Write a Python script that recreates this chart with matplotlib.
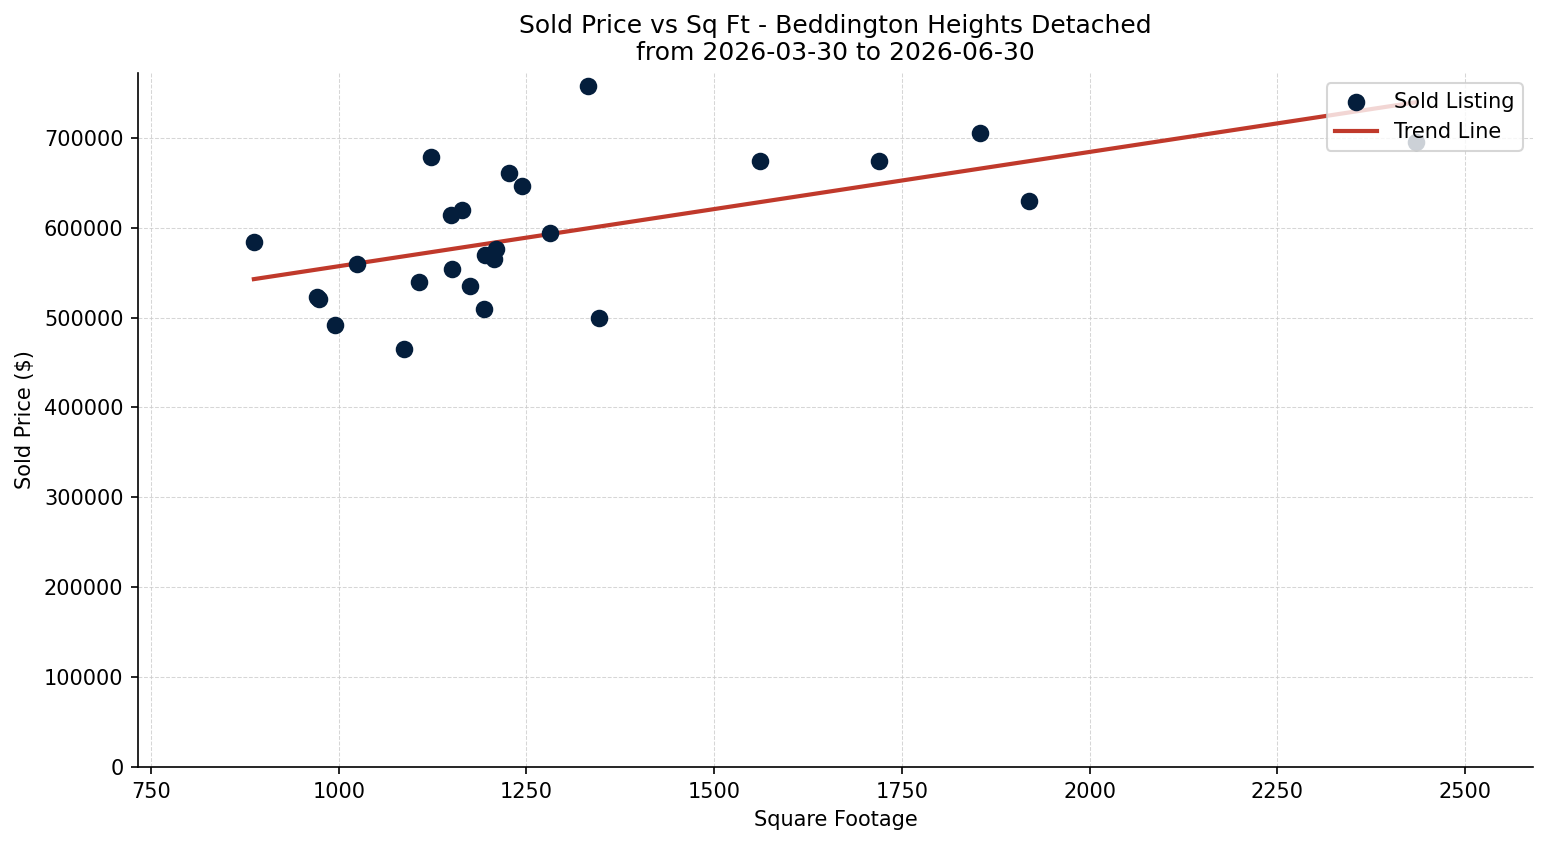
import numpy as np
from matplotlib import pyplot as plt

# sold listings
sqft = [887, 971, 974, 995, 1024, 1087, 1107, 1123, 1150, 1151, 1164, 1175,
        1193, 1195, 1207, 1209, 1227, 1244, 1281, 1332, 1347, 1561, 1720,
        1854, 1919, 2435]
price = [584000, 523000, 521000, 492000, 559000, 465000, 539000, 679000,
         614000, 554000, 620000, 535000, 510000, 569000, 565000, 576000,
         661000, 646000, 594000, 757000, 500000, 674000, 674000, 705000,
         630000, 695000]

title = "Sold Price vs Sq Ft - Beddington Heights Detached\nfrom 2026-03-30 to 2026-06-30"


def main():
    fig, ax = plt.subplots(figsize=(1547 / 150, 845 / 150), dpi=150)
    x = np.array(sqft)
    y = np.array(price)
    ax.scatter(x, y, s=55, color='#041e3c', label='Sold Listing', zorder=3)
    slope, intercept = np.polyfit(x, y, 1)
    xs = np.array([x.min(), x.max()])
    ax.plot(xs, slope * xs + intercept, color='#c0392b', linewidth=2,
            label='Trend Line', zorder=2)
    ax.set_xlim(732.7, 2590.6)
    ax.set_ylim(0, 772000)
    ax.set_xlabel('Square Footage')
    ax.set_ylabel('Sold Price ($)')
    ax.set_title(title, fontsize=12)
    ax.grid(True, linestyle='--', linewidth=0.5, color='#cccccc', alpha=0.8)
    ax.spines['top'].set_visible(False)
    ax.spines['right'].set_visible(False)
    ax.ticklabel_format(style='plain', axis='y')
    ax.legend(loc='upper right')
    fig.subplots_adjust(left=138 / 1547, right=1533 / 1547,
                        top=1 - 73 / 845, bottom=1 - 767 / 845)
    fig.savefig('out.png', dpi=150)


if __name__ == "__main__":
    main()
